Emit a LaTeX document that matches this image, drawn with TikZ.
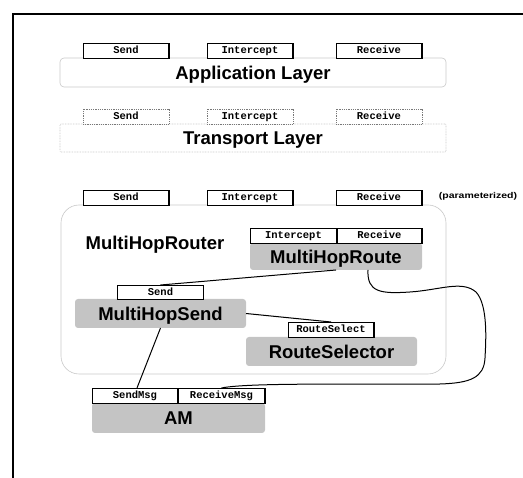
\documentclass[tikz,border=0pt]{standalone}
\usepackage{fontspec}
\setmainfont{Liberation Sans}
\newfontfamily\monofnt{Liberation Mono}
\usetikzlibrary{calc}
\definecolor{bodygray}{RGB}{196,196,196}
\definecolor{edgegray}{RGB}{200,200,200}
\definecolor{dotgray}{RGB}{120,120,120}
\tikzset{
  port/.style={draw=black, line width=0.7pt, fill=white, inner sep=0pt, outer sep=0pt,
    minimum width=86pt, minimum height=15pt, text height=6.6pt, text depth=0pt,
    font=\monofnt\bfseries\fontsize{10.5}{11}\selectfont,
    path picture={\draw[line width=1.8pt] (path picture bounding box.north east) -- (path picture bounding box.south east);}},
  ghostport/.style={port, draw=dotgray, dash pattern=on 0.9pt off 0.9pt, path picture={}},
  biglabel/.style={inner sep=0pt, text height=13.2pt, text depth=0pt,
    font=\bfseries\fontsize{18.5}{20}\selectfont},
  layer/.style={biglabel, draw=edgegray, line width=0.6pt, rounded corners=4pt,
    minimum width=386pt, minimum height=29pt},
  ghostlayer/.style={layer, dash pattern=on 0.8pt off 0.8pt, rounded corners=1pt},
  module/.style={biglabel, fill=bodygray, rounded corners=3pt, outer sep=0pt},
  wire/.style={draw=black, line width=1pt},
}
\begin{document}
\begin{tikzpicture}[x=1pt, y=-1pt]
\useasboundingbox (0,0) rectangle (523,478);
% page frame
\draw[line width=2pt] (13,480) -- (13,14) -- (525,14);

% application layer
\node[layer] (app) at (253,72.5) {Application Layer};
\node[port] (asend) at (126,50.5) {Send};
\node[port] (aint)  at (250,50.5) {Intercept};
\node[port] (arecv) at (379,50.5) {Receive};

% transport layer
\node[ghostlayer, minimum height=28pt] (tra) at (253,138) {Transport Layer};
\node[ghostport] (tsend) at (126,116.5) {Send};
\node[ghostport] (tint)  at (250,116.5) {Intercept};
\node[ghostport] (trecv) at (379,116.5) {Receive};

% router configuration
\node[draw=edgegray, line width=0.6pt, rounded corners=18pt, minimum width=385pt,
  minimum height=169pt, inner sep=0pt] (router) at (253.5,289.5) {};
\node[port] (rsend) at (126,197.5) {Send};
\node[port] (rint)  at (250,197.5) {Intercept};
\node[port] (rrecv) at (379,197.5) {Receive};
\node[inner sep=0pt, font=\bfseries\fontsize{8.4}{9}\selectfont] (param) at (478,196)
  {\scalebox{1.25}[1]{(parameterized)}};
\node[biglabel] (routerlbl) at (155,243) {MultiHopRouter};

% components
\node[module, minimum width=172pt, minimum height=27pt] (route) at (336,256.5) {MultiHopRoute};
\node[port, anchor=south west, minimum width=87pt] (rtint) at (route.north west) {Intercept};
\node[port, anchor=south east, minimum width=85pt] (rtrecv) at (route.north east) {Receive};

\node[module, minimum width=171pt, minimum height=29pt] (mhsend) at (160.5,313.5) {MultiHopSend};
\node[port, anchor=south, minimum height=14pt] (mhsport) at (mhsend.north) {Send};

\node[module, minimum width=171pt, minimum height=29pt] (rsel) at (331.5,351.5) {RouteSelector};
\node[port, anchor=south] (rsport) at ([xshift=-0.5pt]rsel.north) {RouteSelect};

\node[module, minimum width=173pt, minimum height=30pt] (am) at (178.5,418) {AM};
\node[port, anchor=south west] (smsg) at (am.north west) {SendMsg};
\node[port, anchor=south east, minimum width=87pt] (rmsg) at (am.north east) {ReceiveMsg};

% wiring
\coordinate (rtout) at ([xshift=32pt]route.south);
\draw[wire] (route.south) -- (mhsport.north);
\draw[wire] (mhsend.east) -- (rsport.north);
\draw[wire] (mhsend.south) -- ([xshift=2pt]smsg.north);
\draw[wire] (rtout) .. controls (367,292) and (380,294) .. (410,292)
  .. controls (440,290) and (462,280) .. (476,292)
  .. controls (488,305) and (486,340) .. (485,358)
  .. controls (484,378) and (470,383) .. (440,384)
  .. controls (380,385) and (250,382) .. (rmsg.north);
\end{tikzpicture}
\end{document}
